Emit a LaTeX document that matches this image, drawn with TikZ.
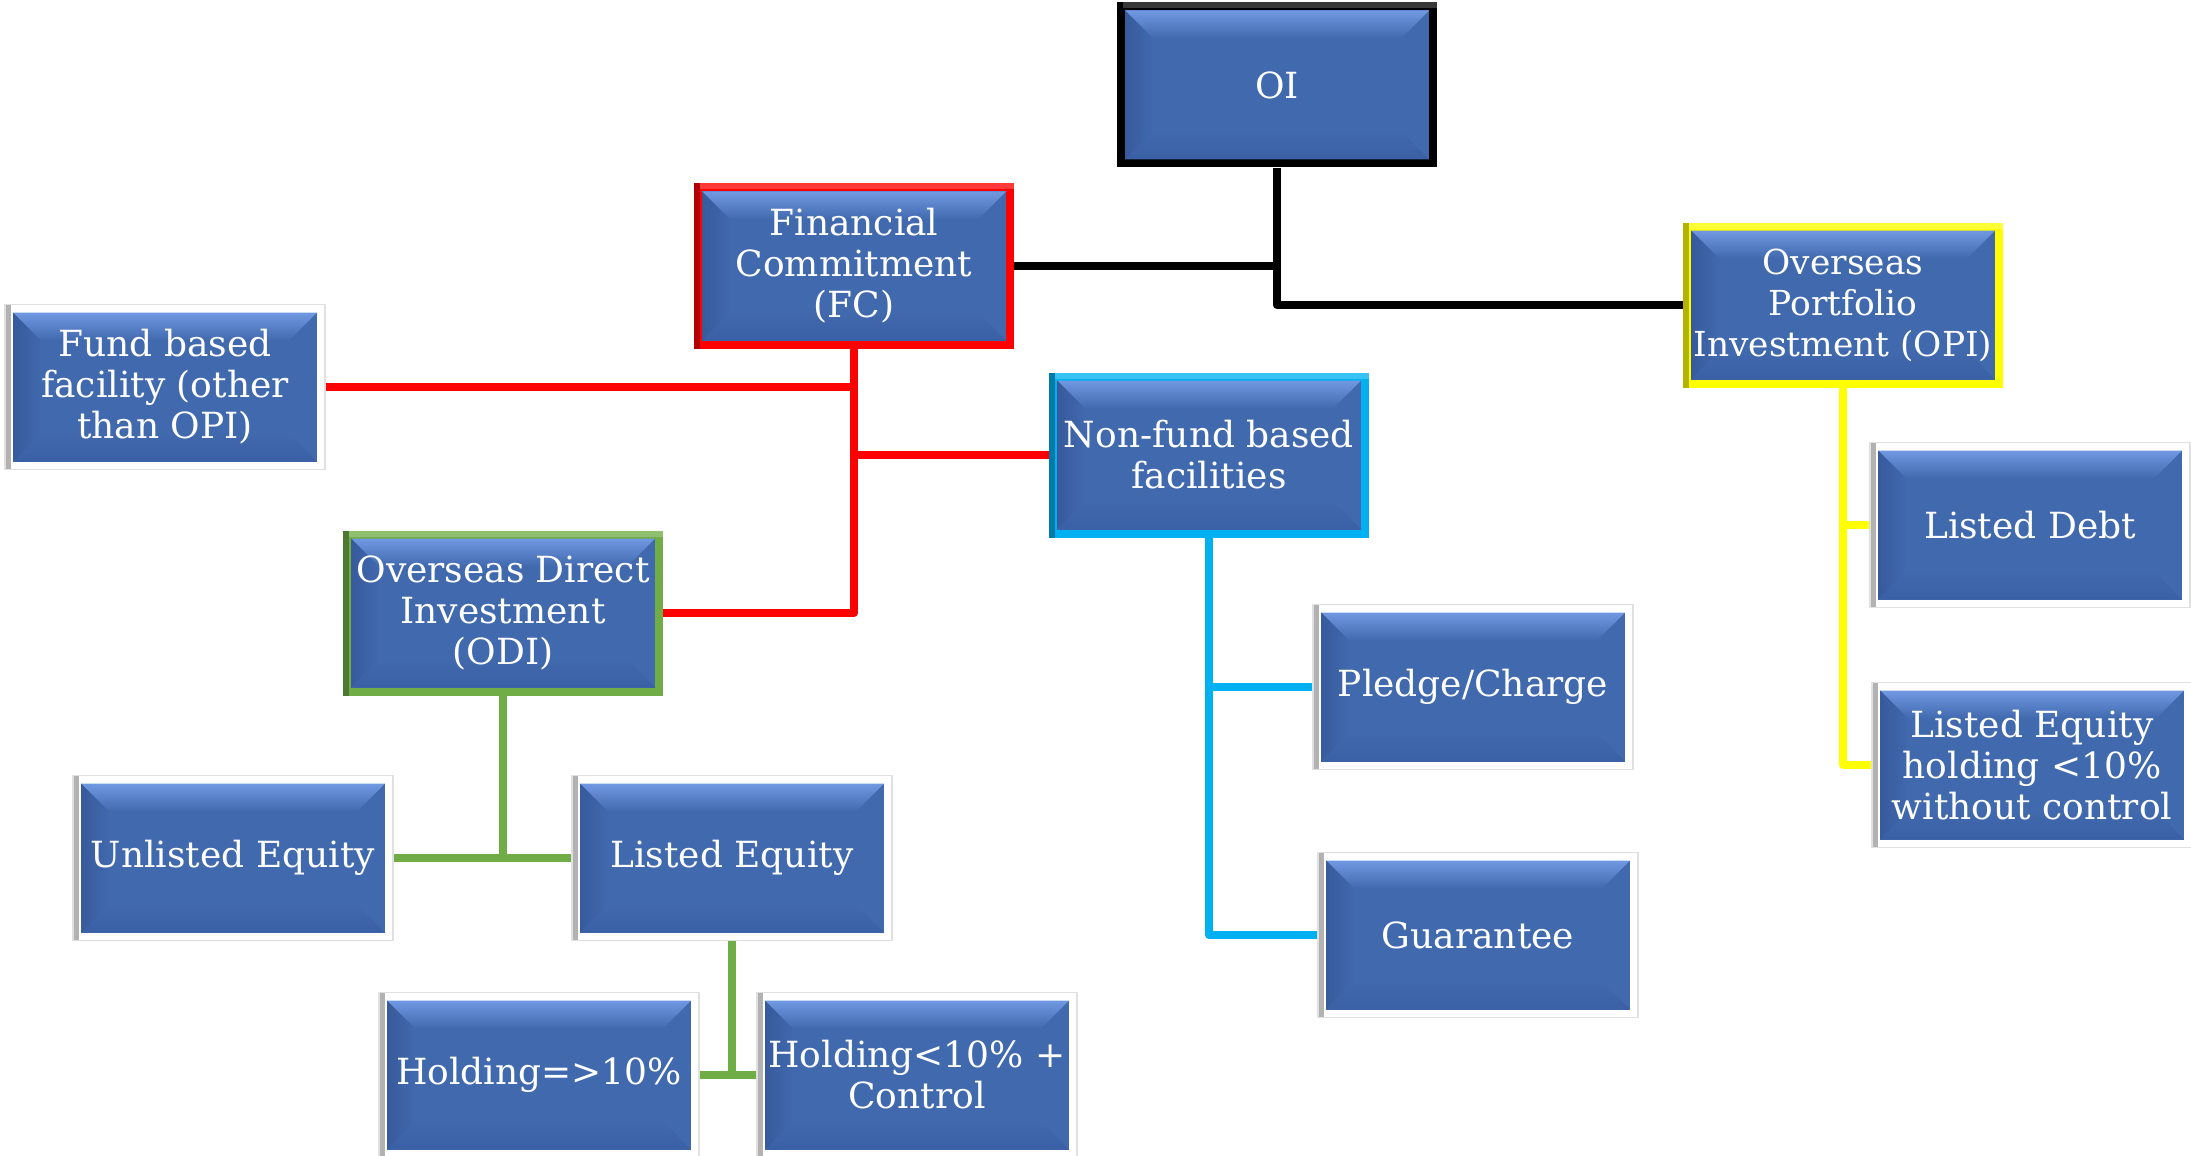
\documentclass[tikz,border=0pt]{standalone}
\usepackage{fontspec}
\setmainfont{DejaVu Serif}
\usetikzlibrary{calc}

\definecolor{boxblue}{RGB}{65,105,174}
\definecolor{bevtop}{RGB}{112,153,226}
\definecolor{bevleft}{RGB}{55,90,156}
\definecolor{bevbot}{RGB}{58,95,164}
\definecolor{lnred}{RGB}{255,0,0}
\definecolor{lncyan}{RGB}{0,176,240}
\definecolor{lngreen}{RGB}{112,173,71}
\definecolor{lnyellow}{RGB}{255,255,0}

\tikzset{
  card/.style={rectangle, fill=#1, minimum width=160pt, minimum height=82.5pt,
    inner sep=0pt, text=white, align=center,
    font=\fontsize{18}{20.5}\selectfont,
    path picture={
      \coordinate (pO) at (path picture bounding box.south west);
      \coordinate (pP) at (path picture bounding box.north east);
      \coordinate (pA) at ([shift={(4pt,4pt)}]pO);
      \coordinate (pB) at ([shift={(-4pt,-4pt)}]pP);
      % frame relief: lighter top edge, darker left edge
      \fill[#1!78!white] (pO |- pP) rectangle ([yshift=-3pt]pP);
      \fill[#1!70!black] (pO) rectangle ([xshift=3pt]pO |- pP);
      % blue face
      \fill[boxblue] (pA) rectangle (pB);
      % bevel facets
      \shade[top color=bevtop, bottom color=boxblue]
        (pA |- pB) -- (pB) -- ($(pB)+(-14pt,-14pt)$) -- ($(pA |- pB)+(14pt,-14pt)$) -- cycle;
      \shade[left color=bevleft, right color=boxblue]
        (pA) -- ($(pA)+(14pt,14pt)$) -- ($(pA |- pB)+(14pt,-14pt)$) -- (pA |- pB) -- cycle;
      \shade[bottom color=bevbot, top color=boxblue]
        (pA) -- (pA -| pB) -- ($(pA -| pB)+(-14pt,14pt)$) -- ($(pA)+(14pt,14pt)$) -- cycle;
    }},
  plaincard/.style={card=white, draw=black!12, line width=0.6pt},
  conn/.style={line width=4pt, line join=round},
}

\begin{document}
\begin{tikzpicture}[x=0.5pt, y=-0.5pt]
  \useasboundingbox (0,0) rectangle (2191,1156);

  % level 0
  \node[card=black] (OI) at (1277,85) {OI};

  % level 1
  \node[card=lnred] (FC) at (854,266) {Financial\\Commitment\\(FC)};
  \node[card=lnyellow, font=\fontsize{17.2}{20.5}\selectfont] (OPI) at (1843,305) {Overseas\\Portfolio\\Investment (OPI)};

  % financial commitment branches
  \node[plaincard] (Fund) at (165,387) {Fund based\\facility (other\\than OPI)};
  \node[card=lncyan] (NF) at (1209,455) {Non-fund based\\facilities};
  \node[card=lngreen] (ODI) at (503,613) {Overseas Direct\\Investment\\(ODI)};

  % non-fund based facilities
  \node[plaincard] (Pledge) at (1473,687) {Pledge/Charge};
  \node[plaincard] (Guar) at (1478,935) {Guarantee};

  % portfolio investment
  \node[plaincard] (LDebt) at (2030,525) {Listed Debt};
  \node[plaincard] (LEqH) at (2032,765) {Listed Equity\\holding <10\%\\without control};

  % direct investment
  \node[plaincard] (Unl) at (233,858) {Unlisted Equity};
  \node[plaincard] (LEq) at (732,858) {Listed Equity};
  \node[plaincard] (HGE) at (539,1075) {Holding=>10\%};
  \node[plaincard] (HLT) at (917,1075) {Holding<10\% +\\Control};

  % connectors
  \draw[conn, black] (OI.south) |- (OPI.west);
  \draw[conn, black] (FC.east) -- (FC.east -| OI.south);

  \draw[conn, lnred] (FC.south) |- (ODI.east);
  \draw[conn, lnred] (Fund.east) -- (Fund.east -| FC.south);
  \draw[conn, lnred] (NF.west) -- (NF.west -| FC.south);

  \draw[conn, lncyan] (NF.south) |- (Guar.west);
  \draw[conn, lncyan] (Pledge.west) -- (Pledge.west -| NF.south);

  \draw[conn, lnyellow] (OPI.south) |- (LEqH.west);
  \draw[conn, lnyellow] (LDebt.west) -- (LDebt.west -| OPI.south);

  \draw[conn, lngreen] (ODI.south) -- (ODI.south |- Unl.east);
  \draw[conn, lngreen] (Unl.east) -- (LEq.west);
  \draw[conn, lngreen] (LEq.south) -- (LEq.south |- HGE.east);
  \draw[conn, lngreen] (HGE.east) -- (HLT.west);
\end{tikzpicture}
\end{document}
